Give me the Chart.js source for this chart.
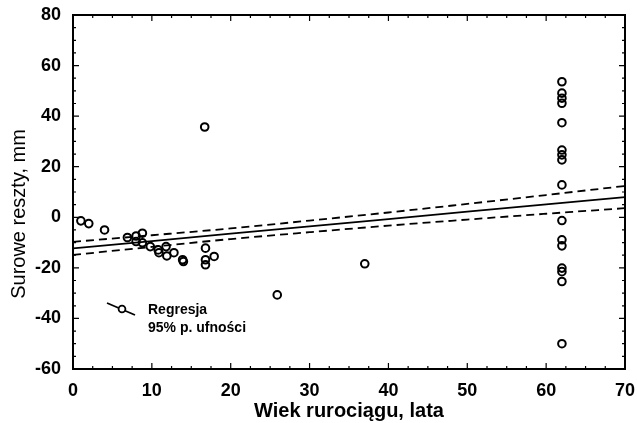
<!DOCTYPE html>
<html>
<head>
<meta charset="utf-8">
<script src="https://cdn.jsdelivr.net/npm/chart.js@4"></script>
<style>
  html, body { margin: 0; padding: 0; background: #fff; }
  #wrap { width: 637px; height: 423px; }
</style>
</head>
<body>
<div id="wrap"><canvas id="residChart" width="637" height="423"></canvas></div>
<script>
// wiek rurociągu (lata) i surowe reszty (mm)
const ages = [1, 2, 4, 6.9, 8, 8.8, 8, 8.8, 9.8, 10.8, 10.9, 11.8, 11.9, 12.8, 13.9, 14,
    16.8, 16.8, 16.8, 17.9, 16.7, 25.9, 37,
    62, 62, 62, 62, 62, 62, 62, 62, 62, 62, 62, 62, 62, 62, 62, 62];
const residuals = [-1.4, -2.5, -5, -8, -7.4, -6.3, -9.6, -10.1, -11.6, -12.9, -14, -11.6, -15.3, -14, -16.8, -17.5,
    -12.2, -16.8, -18.8, -15.5, 35.7, -30.7, -18.4,
    53.6, 49.1, 47.1, 45.1, 37.4, 26.6, 24.7, 22.7, 12.8, -1.3, -8.9, -11.3, -20.1, -21.5, -25.4, -50];

// linia regresji i 95% przedział ufności
const fitX = [0, 10, 20, 30, 40, 50, 60, 70];
const fitY = [-12.3, -9.4, -6.5, -3.6, -0.7, 2.2, 5.1, 8.0];
const upperY = [-9.7, -7.1, -4.4, -1.3, 1.9, 5.3, 8.8, 12.4];
const lowerY = [-14.9, -11.7, -8.6, -5.9, -3.3, -0.9, 1.4, 3.6];

const xTicks = [0, 10, 20, 30, 40, 50, 60, 70];
const yTicks = [-60, -40, -20, 0, 20, 40, 60, 80];

const FONT = "Liberation Sans, Arial, sans-serif";

function pairs(xs, ys) {
    return xs.map(function (x, i) { return { x: x, y: ys[i] }; });
}

// ramka, krótkie kreski podziałki do środka, tytuł osi Y, legenda
const framePlugin = {
    id: "frame",
    afterDraw(chart) {
        const ctx = chart.ctx;
        const a = chart.chartArea;
        const xs = chart.scales.x, ys = chart.scales.y;
        ctx.save();
        ctx.strokeStyle = "#000";
        ctx.lineWidth = 2;
        ctx.strokeRect(a.left, a.top, a.right - a.left, a.bottom - a.top);

        ctx.lineWidth = 1.2;
        ctx.beginPath();
        for (let v = -60; v <= 80; v += 5) {
            const p = ys.getPixelForValue(v);
            const len = v % 20 === 0 ? 6 : 3;
            ctx.moveTo(a.left, p); ctx.lineTo(a.left + len, p);
            ctx.moveTo(a.right, p); ctx.lineTo(a.right - len, p);
        }
        for (let v = 0; v <= 70; v += 2.5) {
            const p = xs.getPixelForValue(v);
            const len = v % 10 === 0 ? 6 : 3;
            ctx.moveTo(p, a.bottom); ctx.lineTo(p, a.bottom - len);
            ctx.moveTo(p, a.top); ctx.lineTo(p, a.top + len);
        }
        ctx.stroke();

        // tytuł osi Y
        ctx.fillStyle = "#000";
        ctx.save();
        ctx.translate(19, 214);
        ctx.rotate(-Math.PI / 2);
        ctx.font = "20px " + FONT;
        ctx.textAlign = "center";
        ctx.textBaseline = "middle";
        ctx.fillText("Surowe reszty, mm", 0, 0);
        ctx.restore();

        // legenda
        ctx.lineWidth = 1.8;
        ctx.beginPath();
        ctx.moveTo(107, 303);
        ctx.lineTo(135, 315);
        ctx.stroke();
        ctx.fillStyle = "#fff";
        ctx.beginPath();
        ctx.arc(122, 309, 3.4, 0, Math.PI * 2);
        ctx.fill();
        ctx.stroke();
        ctx.fillStyle = "#000";
        ctx.font = "bold 14px " + FONT;
        ctx.textBaseline = "middle";
        ctx.textAlign = "left";
        ctx.fillText("Regresja", 148, 310);
        ctx.fillText("95% p. ufności", 148, 328);
        ctx.restore();
    }
};

new Chart(document.getElementById("residChart"), {
    type: "scatter",
    data: {
        datasets: [
            {
                label: "Reszty",
                data: pairs(ages, residuals),
                pointRadius: 3.8,
                pointBorderWidth: 2,
                pointBorderColor: "#000",
                pointBackgroundColor: "rgba(0,0,0,0)",
                showLine: false
            },
            {
                type: "line",
                label: "Regresja",
                data: pairs(fitX, fitY),
                borderColor: "#000",
                borderWidth: 1.8,
                pointRadius: 0,
                fill: false
            },
            {
                type: "line",
                label: "95% górna",
                data: pairs(fitX, upperY),
                borderColor: "#000",
                borderWidth: 1.8,
                borderDash: [8, 5],
                pointRadius: 0,
                cubicInterpolationMode: "monotone",
                fill: false
            },
            {
                type: "line",
                label: "95% dolna",
                data: pairs(fitX, lowerY),
                borderColor: "#000",
                borderWidth: 1.8,
                borderDash: [8, 5],
                pointRadius: 0,
                cubicInterpolationMode: "monotone",
                fill: false
            }
        ]
    },
    options: {
        responsive: false,
        animation: false,
        layout: { padding: { top: 15, right: 12, left: 0, bottom: 0 } },
        plugins: {
            legend: { display: false },
            tooltip: { enabled: false }
        },
        scales: {
            x: {
                type: "linear",
                min: 0,
                max: 70,
                afterBuildTicks: function (s) { s.ticks = xTicks.map(function (v) { return { value: v }; }); },
                afterFit: function (s) {
                    s.height = 54;
                    s.paddingLeft = 0;
                    s.paddingRight = 0;
                },
                grid: { display: false, drawTicks: false },
                border: { display: false },
                ticks: {
                    color: "#000",
                    padding: 11,
                    font: { family: FONT, size: 18, weight: "bold" }
                },
                title: {
                    display: true,
                    text: "Wiek rurociągu, lata",
                    color: "#000",
                    padding: { top: 0, bottom: 0 },
                    font: { family: FONT, size: 20, weight: "bold" }
                }
            },
            y: {
                min: -60,
                max: 80,
                afterBuildTicks: function (s) { s.ticks = yTicks.map(function (v) { return { value: v }; }); },
                afterFit: function (s) {
                    s.width = 73;
                    s.paddingTop = 0;
                    s.paddingBottom = 0;
                },
                grid: { display: false, drawTicks: false },
                border: { display: false },
                ticks: {
                    color: "#000",
                    padding: 12,
                    font: { family: FONT, size: 18, weight: "bold" }
                }
            }
        }
    },
    plugins: [framePlugin]
});
</script>
</body>
</html>
